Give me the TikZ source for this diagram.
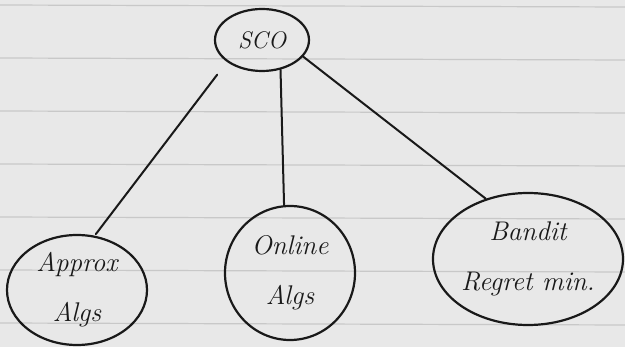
\documentclass[tikz,border=0pt]{standalone}
\usetikzlibrary{shapes.geometric}
\definecolor{paper}{RGB}{232,232,232}
\definecolor{rule}{RGB}{200,200,200}
\definecolor{ink}{RGB}{25,25,25}
\begin{document}
\begin{tikzpicture}[x=1pt,y=-1pt,
  bubble/.style={ellipse,draw=ink,line width=2.2pt,inner sep=0pt,align=center,
    font=\fontsize{27}{50}\selectfont\itshape,text=ink},
  link/.style={draw=ink,line width=2pt,line cap=round},
  ruled/.style={draw=rule,line width=1.2pt}]
\fill[paper] (0,0) rectangle (625,347);
\useasboundingbox (0,0) rectangle (625,347);
\foreach \yy in {5,58,111,164,217,270,323}
  \draw[ruled] (0,\yy) -- (625,\yy+2);
\node[bubble,minimum width=94pt,minimum height=62pt,font=\fontsize{24}{28}\selectfont\itshape] (sco) at (262,40) {SCO};
\node[bubble,minimum width=140pt,minimum height=110pt] (approx) at (77,290) {Approx\\Algs};
\node[bubble,minimum width=130pt,minimum height=134pt] (online) at (290,273) {Online\\Algs};
\node[bubble,minimum width=190pt,minimum height=132pt] (bandit) at (528,259) {Bandit\\Regret min.};
\draw[link,shorten <=16pt,shorten >=2pt] (sco.212) -- (approx.72);
\draw[link] (sco.-58) -- (online.95);
\draw[link] (sco.-22) -- (bandit.125);
\end{tikzpicture}
\end{document}
